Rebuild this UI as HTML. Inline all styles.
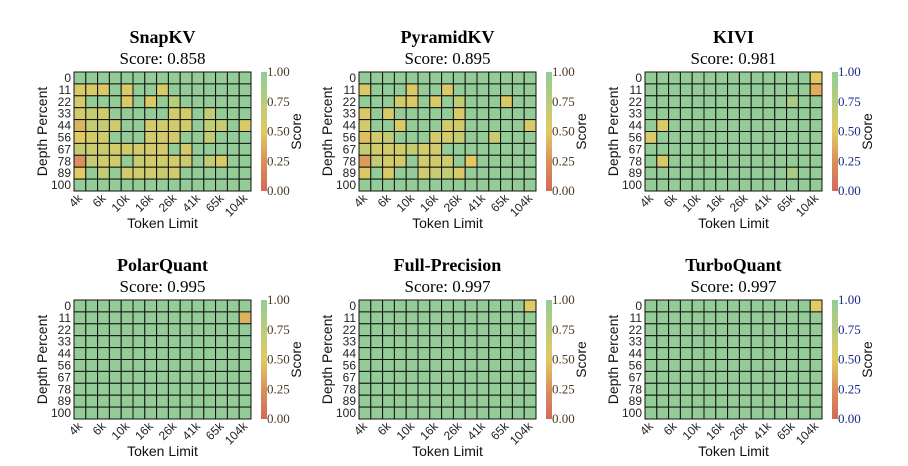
<!DOCTYPE html>
<html><head><meta charset="utf-8"><style>
html,body{margin:0;padding:0;background:#fff;}
svg{display:block;}
.tt{font-family:"Liberation Serif",serif;font-weight:bold;font-size:18px;}
.sc{font-family:"Liberation Serif",serif;font-size:17px;}
.tk{font-family:"Liberation Sans",sans-serif;font-size:12px;fill:#222;}
.al{font-family:"Liberation Sans",sans-serif;font-size:14px;fill:#111;}
.cb{font-family:"Liberation Serif",serif;font-size:13px;}
</style></head><body>
<svg id="fig" width="908" height="466" viewBox="0 0 908 466"></svg>
<script>
const depthLabels=["0","11","22","33","44","56","67","78","89","100"];
const tokenLabels=["4k","6k","10k","16k","26k","41k","65k","104k"];
const titles=["SnapKV","PyramidKV","KIVI","PolarQuant","Full-Precision","TurboQuant"];
const scores=["0.858","0.895","0.981","0.995","0.997","0.997"];
const cbTickColors=["#4a3a20","#4a3a20","#1a2a80","#4a3a20","#4a3a20","#1a2a80"];
const snapkv=[
[1,1,1,1,1,1,1,1,1,1,1,1,1,1,1],
[.55,.55,.55,1,.55,1,1,.55,1,1,1,1,1,1,1],
[.6,1,1,1,.55,1,.55,1,.75,1,1,1,1,1,1],
[.6,.7,.6,1,1,1,1,1,.6,.6,1,.7,1,1,1],
[.4,.7,.7,.6,1,1,.6,.6,.6,.6,1,.7,.65,1,.55],
[.5,.6,.6,1,1,1,.6,.6,.6,1,1,.7,1,1,1],
[.7,.65,.65,.6,.6,.6,.6,.6,1,.6,1,1,1,1,1],
[.25,.7,.6,.6,1,.65,.6,.6,.6,.65,1,.7,.55,1,1],
[.5,1,.7,1,.6,.6,.6,.65,.6,1,1,1,1,1,1],
[1,1,1,1,1,1,1,1,1,1,1,1,1,1,1]];
const pyramidkv=[
[1,1,1,1,1,1,1,1,1,1,1,1,1,1,1],
[.55,1,1,1,.55,1,1,.55,1,1,1,1,1,1,1],
[1,1,1,.6,.55,1,.55,1,.7,1,1,1,.55,1,1],
[.55,1,.55,1,1,1,1,1,.55,1,1,1,1,1,1],
[.6,1,1,.55,1,1,1,.6,.6,1,1,1,1,1,.55],
[.45,.6,.7,1,1,1,.6,.6,.7,1,1,.65,1,1,1],
[.7,.6,.6,.6,.7,.6,.6,1,1,1,1,1,1,1,1],
[.3,.7,.6,.6,1,.6,.6,.6,1,.5,1,1,1,1,1],
[.55,1,.55,1,1,.6,.65,.7,.55,1,1,1,1,1,1],
[1,1,1,1,1,1,1,1,1,1,1,1,1,1,1]];
function full(){return depthLabels.map(()=>new Array(15).fill(1));}
const kivi=full(); kivi[0][14]=.5; kivi[1][14]=.38; kivi[2][12]=.85; kivi[4][1]=.55; kivi[5][0]=.55; kivi[7][1]=.55; kivi[8][12]=.85;
const polar=full(); polar[1][14]=.4;
const fullp=full(); fullp[0][14]=.5;
const turbo=full(); turbo[0][14]=.5;
const datasets=[snapkv,pyramidkv,kivi,polar,fullp,turbo];

const stops=[[0,[212,105,90]],[0.25,[217,144,90]],[0.5,[226,202,98]],[0.75,[185,204,122]],[1,[147,204,150]]];
function color(v){v=Math.max(0,Math.min(1,v));for(let i=1;i<stops.length;i++){if(v<=stops[i][0]){const a=stops[i-1],b=stops[i];const t=(v-a[0])/(b[0]-a[0]);const c=a[1].map((x,k)=>Math.round(x+(b[1][k]-x)*t));return `rgb(${c[0]},${c[1]},${c[2]})`;}}return 'rgb(147,204,150)';}
const NS="http://www.w3.org/2000/svg";
const svg=document.getElementById('fig');
function mk(tag,attrs,parent,text){const e=document.createElementNS(NS,tag);for(const k in attrs)e.setAttribute(k,attrs[k]);if(text!==undefined)e.textContent=text;(parent||svg).appendChild(e);return e;}
const defs=mk('defs',{});
const lg=mk('linearGradient',{id:'cbg',x1:0,y1:1,x2:0,y2:0},defs);
stops.forEach(s=>mk('stop',{offset:s[0],'stop-color':`rgb(${s[1].join(',')})`},lg));

const gx=[74,359,645], gy=[72,300], GW=177, GH=119;
datasets.forEach((data,p)=>{
  const x0=gx[p%3], y0=gy[Math.floor(p/3)];
  const g=mk('g',{});
  
  
  const cx=x0+GW/2;
  const t=mk('text',{x:cx,y:y0-29,'text-anchor':'middle',class:'tt'},g,titles[p]);
  
  const s=mk('text',{x:cx,y:y0-8,'text-anchor':'middle',class:'sc'},g,'Score:  '+scores[p]);
  
  s.setAttribute('xml:space','preserve');
  const nr=data.length,nc=data[0].length,cw=GW/nc,ch=GH/nr;
  const xs=c=>x0+c*cw, ys=r=>y0+r*ch;
  data.forEach((row,r)=>row.forEach((v,c)=>{
    const rc=mk('rect',{x:xs(c),y:ys(r),width:cw,height:ch,fill:color(v),stroke:'#111','stroke-width':1},g);
    
  }));
  depthLabels.forEach((l,r)=>{
    const e=mk('text',{x:x0-3,y:ys(r)+ch/2+4,'text-anchor':'end',class:'tk'},g,l);
    
  });
  tokenLabels.forEach((l,i)=>{
    const tx=xs(i*2)+cw/2+3, ty=y0+GH+8;
    const e=mk('text',{x:tx,y:ty,'text-anchor':'end',class:'tk',transform:`rotate(-45 ${tx} ${ty})`},g,l);
    
  });
  const xl=mk('text',{x:cx,y:y0+GH+37,'text-anchor':'middle',class:'al'},g,'Token Limit');
  
  const yx=x0-27, yy=y0+GH/2;
  const yl=mk('text',{x:yx,y:yy,'text-anchor':'middle',class:'al',transform:`rotate(-90 ${yx} ${yy})`},g,'Depth Percent');
  
  const bx=x0+187;
  const cb=mk('rect',{x:bx,y:y0,width:6,height:GH,fill:'url(#cbg)'},g);
  
  ["0.00","0.25","0.50","0.75","1.00"].forEach((l,i)=>{
    const e=mk('text',{x:bx+6,y:y0+GH-i*GH/4+4,class:'cb',fill:cbTickColors[p]},g,l);
    
  });
  const lx=bx+40, ly=y0+GH/2;
  const cl=mk('text',{x:lx,y:ly,'text-anchor':'middle',class:'al',transform:`rotate(-90 ${lx} ${ly})`},g,'Score');
  
});
</script>
</body></html>
